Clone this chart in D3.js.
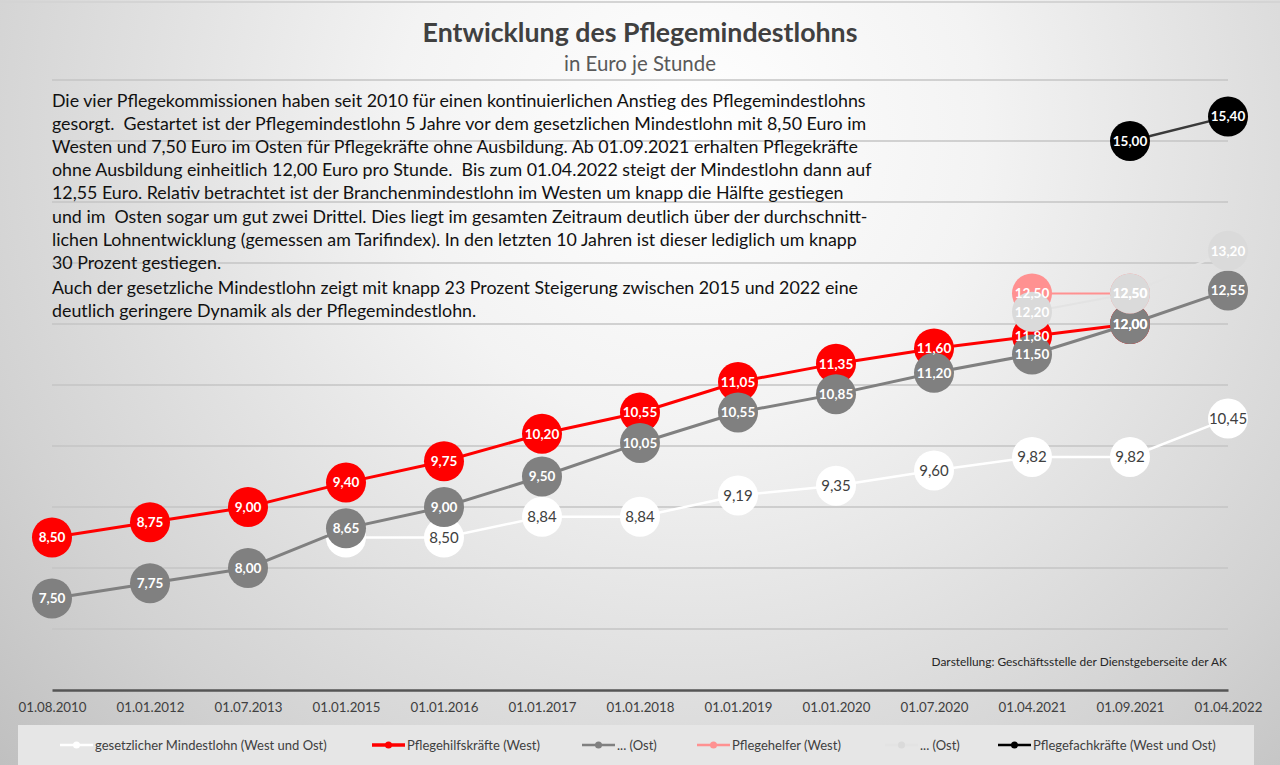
<!DOCTYPE html>
<html>
<head>
<meta charset="utf-8">
<script src="https://cdn.jsdelivr.net/npm/d3@7"></script>
<style>
  html, body { margin: 0; padding: 0; background: #d0d0d0; }
  svg { display: block; font-family: Lato, "Open Sans", sans-serif; }
</style>
</head>
<body>
<div id="chart"></div>
<script>
// categories (x axis)
const dates = ["01.08.2010", "01.01.2012", "01.07.2013", "01.01.2015", "01.01.2016", "01.01.2017",
    "01.01.2018", "01.01.2019", "01.01.2020", "01.07.2020", "01.04.2021", "01.09.2021", "01.04.2022"];

// series values, null = no point
const mindestlohn = [null, null, null, 8.50, 8.50, 8.84, 8.84, 9.19, 9.35, 9.60, 9.82, 9.82, 10.45];
const hilfWest = [8.50, 8.75, 9.00, 9.40, 9.75, 10.20, 10.55, 11.05, 11.35, 11.60, 11.80, 12.00, null];
const hilfOst = [7.50, 7.75, 8.00, 8.65, 9.00, 9.50, 10.05, 10.55, 10.85, 11.20, 11.50, 12.00, 12.55];
const helferWest = [null, null, null, null, null, null, null, null, null, null, 12.50, 12.50, null];
const helferOst = [null, null, null, null, null, null, null, null, null, null, 12.20, 12.50, 13.20];
const fachkraefte = [null, null, null, null, null, null, null, null, null, null, null, 15.00, 15.40];

const seriesNames = ["gesetzlicher Mindestlohn (West und Ost)", "Pflegehilfskräfte (West)", "... (Ost)",
    "Pflegehelfer (West)", "... (Ost)", "Pflegefachkräfte (West und Ost)"];

const yTicks = [7, 8, 9, 10, 11, 12, 13, 14, 15, 16];

const title = "Entwicklung des Pflegemindestlohns";
const subtitle = "in Euro je Stunde";
const source = "Darstellung: Geschäftsstelle der Dienstgeberseite der AK";
const paragraph = [
    "Die vier Pflegekommissionen haben seit 2010 für einen kontinuierlichen Anstieg des Pflegemindestlohns",
    "gesorgt.  Gestartet ist der Pflegemindestlohn 5 Jahre vor dem gesetzlichen Mindestlohn mit 8,50 Euro im",
    "Westen und 7,50 Euro im Osten für Pflegekräfte ohne Ausbildung. Ab 01.09.2021 erhalten Pflegekräfte",
    "ohne Ausbildung einheitlich 12,00 Euro pro Stunde.  Bis zum 01.04.2022 steigt der Mindestlohn dann auf",
    "12,55 Euro. Relativ betrachtet ist der Branchenmindestlohn im Westen um knapp die Hälfte gestiegen",
    "und im  Osten sogar um gut zwei Drittel. Dies liegt im gesamten Zeitraum deutlich über der durchschnitt-",
    "lichen Lohnentwicklung (gemessen am Tarifindex). In den letzten 10 Jahren ist dieser lediglich um knapp",
    "30 Prozent gestiegen.",
    "Auch der gesetzliche Mindestlohn zeigt mit knapp 23 Prozent Steigerung zwischen 2015 und 2022 eine",
    "deutlich geringere Dynamik als der Pflegemindestlohn."
];

const width = 1280;
const height = 765;

// styling per series (same order as the legend)
const styles = [
    { line: "#ffffff", fill: "#ffffff", text: "#404040", bold: false, lw: 2.5 },
    { line: "#ff0000", fill: "#ff0000", text: "#ffffff", bold: true, lw: 3 },
    { line: "#808080", fill: "#808080", text: "#ffffff", bold: true, lw: 3 },
    { line: "#ff9191", fill: "#ff9191", text: "#ffffff", bold: true, lw: 2 },
    { line: "#e3e3e3", fill: "#dadada", text: "#ffffff", bold: true, lw: 2 },
    { line: "#3a3a3a", fill: "#000000", text: "#ffffff", bold: true, lw: 2.5 }
];
const allSeries = [mindestlohn, hilfWest, hilfOst, helferWest, helferOst, fachkraefte];
// label at 01.01.2015 of the legal minimum wage is not shown (covered)
const hiddenLabels = [[0, 3]];

const svg = d3.select("#chart").append("svg")
    .attr("width", width)
    .attr("height", height);

// background
const defs = svg.append("defs");
const grad = defs.append("radialGradient")
    .attr("id", "bg")
    .attr("gradientUnits", "userSpaceOnUse")
    .attr("cx", 690).attr("cy", 130).attr("r", 980);
grad.append("stop").attr("offset", 0).attr("stop-color", "#ffffff");
grad.append("stop").attr("offset", 0.3).attr("stop-color", "#f3f3f3");
grad.append("stop").attr("offset", 0.75).attr("stop-color", "#d2d2d2");
grad.append("stop").attr("offset", 1).attr("stop-color", "#bcbcbc");

svg.append("rect").attr("width", width).attr("height", height).attr("fill", "url(#bg)");
svg.append("line").attr("x1", 0).attr("x2", width).attr("y1", 2).attr("y2", 2)
    .attr("stroke", "#d4d4d4").attr("stroke-width", 2);

const x = d3.scalePoint()
    .domain(dates)
    .range([52, 1228]);

const y = d3.scaleLinear()
    .domain([6, 16])
    .range([690, 80]);

// scale a text's font size so it spans the given width
function fitFont(sel, size, target) {
    sel.attr("font-size", size);
    const w = sel.node().getComputedTextLength();
    sel.attr("font-size", size * target / w);
}

// gridlines
svg.append("g")
    .selectAll("line")
    .data(yTicks)
    .join("line")
    .attr("x1", x.range()[0])
    .attr("x2", x.range()[1])
    .attr("y1", d => y(d))
    .attr("y2", d => y(d))
    .attr("stroke", "#c4c4c4")
    .attr("stroke-width", 1.5);

// x axis
const xAxis = svg.append("g")
    .attr("transform", `translate(0, ${y(6)})`)
    .call(d3.axisBottom(x).tickSize(0).tickPadding(13));
xAxis.select(".domain").attr("stroke", "#555555").attr("stroke-width", 2.5);
xAxis.selectAll("text")
    .attr("fill", "#404040")
    .attr("font-family", "Lato, sans-serif");
xAxis.selectAll("text").each(function () { fitFont(d3.select(this), 13, 68); });

// title block
const titleText = svg.append("text")
    .attr("x", 640).attr("y", 42)
    .attr("text-anchor", "middle")
    .attr("font-weight", "bold")
    .attr("fill", "#404040")
    .text(title);
fitFont(titleText, 24, 435);

const subText = svg.append("text")
    .attr("x", 640).attr("y", 71)
    .attr("text-anchor", "middle")
    .attr("fill", "#595959")
    .text(subtitle);
fitFont(subText, 17, 152);

// explanatory paragraph
const para = svg.append("g");
const firstLine = para.append("text")
    .attr("x", 52).attr("y", 107)
    .text(paragraph[0]);
fitFont(firstLine, 16, 814);
const paraSize = +firstLine.attr("font-size");
firstLine.remove();
para.selectAll("text")
    .data(paragraph)
    .join("text")
    .attr("x", 52)
    .attr("y", (d, i) => 107 + i * 23.1 + (i >= 8 ? 2 : 0))
    .attr("font-size", paraSize)
    .attr("fill", "#111111")
    .style("white-space", "pre")
    .text(d => d);

// source note
const srcText = svg.append("text")
    .attr("x", 1227).attr("y", 666)
    .attr("text-anchor", "end")
    .attr("fill", "#262626")
    .text(source);
fitFont(srcText, 11, 296);

// series: line then markers, later series on top
const line = d3.line()
    .defined(d => d.v !== null)
    .x(d => x(d.date))
    .y(d => y(d.v));

const r = 20;
const labelData = [];
allSeries.forEach((values, si) => {
    const st = styles[si];
    const pts = values.map((v, i) => ({ date: dates[i], v: v, i: i }));
    const g = svg.append("g");
    g.append("path")
        .datum(pts)
        .attr("fill", "none")
        .attr("stroke", st.line)
        .attr("stroke-width", st.lw)
        .attr("d", line);
    const valid = pts.filter(d => d.v !== null);
    g.selectAll("circle")
        .data(valid)
        .join("circle")
        .attr("cx", d => x(d.date))
        .attr("cy", d => y(d.v))
        .attr("r", r)
        .attr("fill", st.fill);
    valid.forEach(d => {
        if (!hiddenLabels.some(h => h[0] === si && h[1] === d.i)) {
            labelData.push({ date: d.date, v: d.v, st: st });
        }
    });
});

// data labels on top of everything
const fmt = v => v.toFixed(2).replace(".", ",");
svg.append("g")
    .selectAll("text")
    .data(labelData)
    .join("text")
    .attr("x", d => x(d.date))
    .attr("y", d => y(d.v))
    .attr("dy", "0.36em")
    .attr("text-anchor", "middle")
    .attr("font-size", d => d.st.bold ? 13.5 : 15)
    .attr("font-weight", d => d.st.bold ? "bold" : "normal")
    .attr("fill", d => d.st.text)
    .text(d => fmt(d.v));

// legend
const legend = svg.append("g");
legend.append("rect")
    .attr("x", 18).attr("y", 725)
    .attr("width", 1236).attr("height", 45)
    .attr("fill", "#e6e6e6");
const legendX = [60, 372, 582, 697, 885, 998];
seriesNames.forEach((name, i) => {
    const st = styles[i];
    const lx = legendX[i];
    const item = legend.append("g").attr("transform", `translate(${lx}, 745)`);
    item.append("line")
        .attr("x1", 0).attr("x2", 33)
        .attr("stroke", i === 5 ? "#000000" : st.line)
        .attr("stroke-width", i === 1 ? 3.5 : 2.5);
    item.append("circle")
        .attr("cx", 16.5).attr("r", 3.5)
        .attr("fill", st.fill);
    item.append("text")
        .attr("x", 35)
        .attr("dy", "0.35em")
        .attr("font-size", 13)
        .attr("fill", "#404040")
        .text(name);
});
</script>
</body>
</html>
